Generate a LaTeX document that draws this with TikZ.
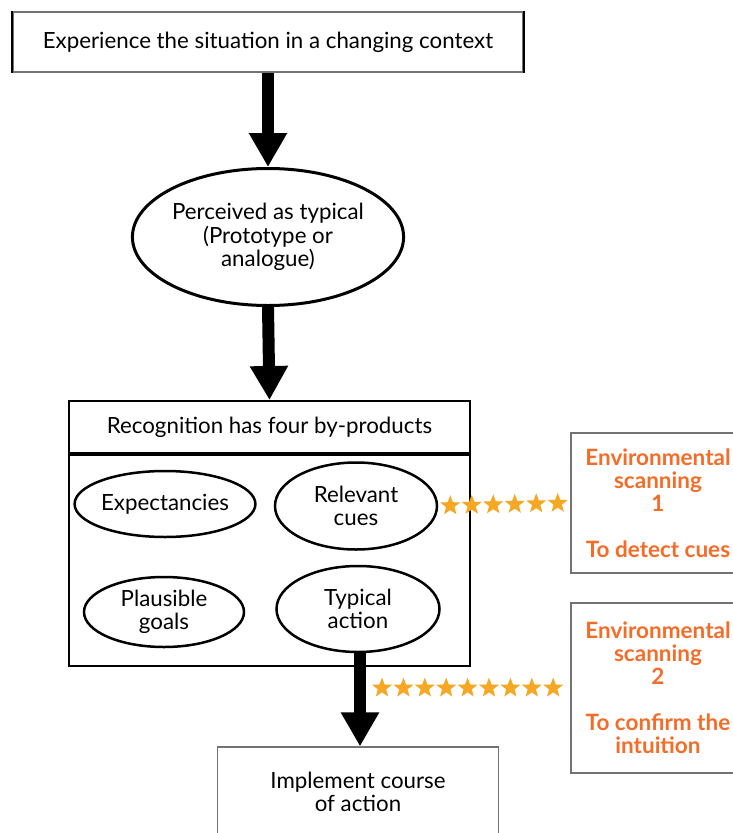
\documentclass[tikz,border=0pt]{standalone}
\usepackage{fontspec}
\setmainfont{Lato}
\usetikzlibrary{arrows.meta, shapes.geometric, decorations.markings}
\definecolor{scanorange}{RGB}{245,108,40}
\definecolor{stargold}{RGB}{246,168,36}

\begin{document}
\begin{tikzpicture}[x=1pt, y=-1pt,
  every node/.style={font=\fontsize{22.3}{23.5}\selectfont, align=center},
  box/.style={draw=black!55, line width=1.2pt, rectangle},
  oval/.style={draw, ellipse, line width=2.5pt, inner sep=0pt},
  bigarrow/.style={line width=12pt, -{Triangle[width=36pt, length=34pt]}},
  scanbox/.style={box, minimum width=174pt, text=scanorange, font=\fontsize{22.5}{23}\selectfont\bfseries},
  startrail/.style={decoration={markings, mark=between positions #1 with {\node[star, star points=5, star point ratio=2.4, fill=stargold, minimum size=21pt, inner sep=0pt] {};}}, decorate}
]
\useasboundingbox (0,0) rectangle (733,833);
\clip (0,0) rectangle (733,833);

% situation and recognition
\node[box, minimum width=510pt, minimum height=60pt] (situation) at (268,42) {Experience the situation in a changing context};
\draw[line width=2pt] (situation.north west) -- (situation.south west);
\draw[line width=2pt] (situation.north east) -- (situation.south east);
\node[oval, line width=3pt, minimum width=262pt, minimum height=137pt] (typical) at (268,237) {Perceived as typical\\(Prototype or\\analogue)};

\node[draw, line width=2pt, minimum width=401pt, minimum height=52pt] (rechead) at (269.5,427) {Recognition has four by-products};
\node[draw, line width=2pt, minimum width=401pt, minimum height=213pt] (recbody) at (269.5,559.5) {};
\draw[line width=3pt] (rechead.south west) -- (rechead.south east);

% four by-products
\node[oval, minimum width=160pt, minimum height=66pt] (expect) at (165,504) {Expectancies};
\node[oval, minimum width=162pt, minimum height=87pt] (cues) at (356,506) {Relevant\\cues};
\node[oval, minimum width=160pt, minimum height=70pt] (goals) at (164,612) {Plausible\\goals};
\node[oval, minimum width=163pt, minimum height=86pt] (action) at (358,609) {Typical\\action};

\node[box, minimum width=281pt, minimum height=90pt] (implement) at (358,792) {Implement course\\of action};

% environmental scanning
\node[scanbox, minimum height=140pt] (scanA) at (658,503) {Environmental\\scanning\\1\\[23pt]To detect cues};
\node[scanbox, minimum height=170pt] (scanB) at (658,688) {Environmental\\scanning\\2\\[23pt]To confirm the\\intuition};

% arrows
\draw[bigarrow] (situation.south) -- (typical.north);
\draw[bigarrow] (typical.south) -- (rechead.north);
\draw[bigarrow] (action.south -| implement.north) ++(2,0) coordinate (shaft) -- (shaft |- implement.north);

% star trails
\coordinate (trail) at (366,688);
\path[startrail={12pt and -12pt step 21.5pt}] (cues.east) -- (scanA.west);
\path[startrail={16pt and -17pt step 21.4pt}] (trail) -- (trail -| scanB.west);
\end{tikzpicture}
\end{document}
